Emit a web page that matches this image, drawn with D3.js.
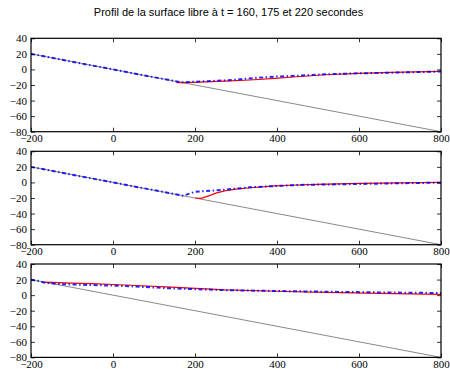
<!DOCTYPE html>
<html>
<head>
<meta charset="utf-8">
<script src="https://cdn.jsdelivr.net/npm/d3@7"></script>
<style>
  body { margin: 0; background: #fff; }
</style>
</head>
<body>
<svg id="chart"></svg>
<script>
// bed (grey line)
var bedX = [-200, 800];
var bedZ = [20, -80];

// t = 160 s
var blue160X = [-200, -100, 0, 100, 167, 200, 253, 290, 334, 354, 395, 448, 517, 598, 680, 800];
var blue160Z = [20, 10, 0, -10, -16.7, -15.8, -14.5, -13.6, -11.5, -10.6, -9.3, -8.1, -6.3, -5, -4.2, -2.7];
var red160X = [155, 200, 253, 273, 334, 395, 448, 517, 598, 680, 800];
var red160Z = [-17, -16.5, -15.3, -15, -13.6, -11.5, -9.4, -6.8, -5, -3.8, -2.5];

// t = 175 s
var blue175X = [-200, 0, 171, 200, 253, 300, 334, 400, 448, 500, 600, 700, 800];
var blue175Z = [20, 0, -17, -12, -10.1, -8, -6.3, -4.5, -3.3, -2.8, -2, -1, -0.3];
var red175X = [200, 215, 235, 253, 275, 300, 334, 395, 448, 500, 600, 700, 800];
var red175Z = [-20, -20.5, -17, -13.5, -10.5, -8.5, -6.8, -4.3, -3.3, -2.4, -1.3, -0.6, 0];

// t = 220 s
var blue220X = [-200, -180, -166, -133, -100, -52, 0, 29, 143, 273, 400, 517, 650, 800];
var blue220Z = [19.8, 18, 16, 14.3, 13.7, 13, 12.2, 11.7, 8.7, 6.4, 5.3, 4.4, 3.5, 2.7];
var red220X = [-166, -100, -52, 29, 143, 273, 400, 517, 650, 800];
var red220Z = [16.8, 15.5, 14.7, 13, 10.4, 6.8, 5, 3.6, 2.2, 1.0];

var xTicks = [-200, 0, 200, 400, 600, 800];
var yTicks = [-80, -60, -40, -20, 0, 20, 40];
var title = "Profil de la surface libre à t = 160, 175 et 220 secondes";

var panels = [
  { bx: blue160X, bz: blue160Z, rx: red160X, rz: red160Z },
  { bx: blue175X, bz: blue175Z, rx: red175X, rz: red175Z },
  { bx: blue220X, bz: blue220Z, rx: red220X, rz: red220Z }
];

var svgWidth = 450, svgHeight = 369;
var left = 31, right = 441, plotH = 93.4;
var tops = [38.3, 151.3, 264];
var tickFont = "Liberation Serif";

var svg = d3.select("#chart")
    .attr("width", svgWidth)
    .attr("height", svgHeight);

svg.append("text")
    .attr("x", 228.5)
    .attr("y", 16)
    .attr("text-anchor", "middle")
    .attr("font-family", "Liberation Sans")
    .attr("font-size", 11)
    .text(title);

var x = d3.scaleLinear().domain([-200, 800]).range([left, right]);

function pairs(xs, zs) {
    return xs.map(function(d, i) { return [d, zs[i]]; });
}

function fmt(d) {
    return d < 0 ? "\u2212" + Math.abs(d) : "" + d;
}

panels.forEach(function(p, k) {
    var top = tops[k];
    var y = d3.scaleLinear().domain([-80, 40]).range([top + plotH, top]);
    var g = svg.append("g");

    var line = d3.line()
        .x(function(d) { return x(d[0]); })
        .y(function(d) { return y(d[1]); });

    var clipId = "clip" + k;
    g.append("clipPath").attr("id", clipId)
      .append("rect")
        .attr("x", left).attr("y", top)
        .attr("width", right - left).attr("height", plotH);

    var plot = g.append("g").attr("clip-path", "url(#" + clipId + ")");

    plot.append("path")
        .datum(pairs(bedX, bedZ))
        .attr("d", line)
        .attr("fill", "none")
        .attr("stroke", "#888")
        .attr("stroke-width", 1);

    plot.append("path")
        .datum(pairs(p.rx, p.rz))
        .attr("d", line)
        .attr("fill", "none")
        .attr("stroke", "#ff0000")
        .attr("stroke-width", 1.2);

    plot.append("path")
        .datum(pairs(p.bx, p.bz))
        .attr("d", line)
        .attr("fill", "none")
        .attr("stroke", "#0000ff")
        .attr("stroke-opacity", 0.85)
        .attr("stroke-width", 2)
        .attr("stroke-dasharray", "4,2.5,1.5,2.5");

    // axes, ticks inside
    var bottomAxis = d3.axisBottom(x).tickValues(xTicks).tickSize(-4).tickPadding(3).tickFormat(fmt);
    var topAxis = d3.axisTop(x).tickValues(xTicks).tickSize(-4).tickFormat("");
    var leftAxis = d3.axisLeft(y).tickValues(yTicks).tickSize(-4).tickPadding(4).tickFormat(fmt);
    var rightAxis = d3.axisRight(y).tickValues(yTicks).tickSize(-4).tickFormat("");

    var axes = [
        g.append("g").attr("transform", "translate(0," + (top + plotH) + ")").call(bottomAxis),
        g.append("g").attr("transform", "translate(0," + top + ")").call(topAxis),
        g.append("g").attr("transform", "translate(" + left + ",0)").call(leftAxis),
        g.append("g").attr("transform", "translate(" + right + ",0)").call(rightAxis)
    ];
    axes.forEach(function(a) {
        a.attr("font-family", tickFont).attr("font-size", 11);
        a.select(".domain").remove();
        a.selectAll(".tick line").attr("stroke", "#000").attr("stroke-width", 0.8);
        a.selectAll(".tick text").attr("fill", "#000");
    });

    g.append("rect")
        .attr("x", left).attr("y", top)
        .attr("width", right - left).attr("height", plotH)
        .attr("fill", "none")
        .attr("stroke", "#000")
        .attr("stroke-width", 1.2);
});
</script>
</body>
</html>
